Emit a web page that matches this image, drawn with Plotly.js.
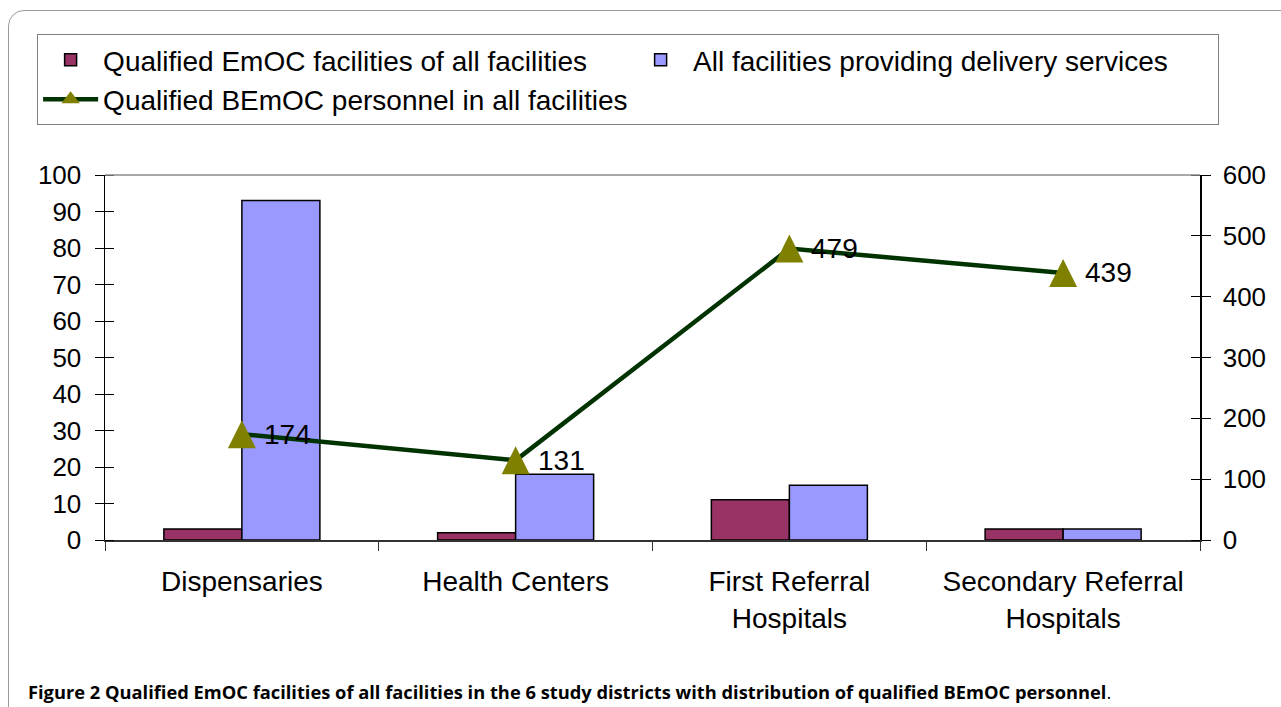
<!DOCTYPE html>
<html>
<head>
<meta charset="utf-8">
<script src="https://cdn.plot.ly/plotly-3.0.1.min.js"></script>
<style>
  html, body { margin: 0; padding: 0; background: #fff; }
  #wrap { position: relative; width: 1281px; height: 707px; overflow: hidden; }
  #frame { position: absolute; left: 8px; top: 10px; width: 1300px; height: 760px;
           border: 1px solid #9a9a9a; border-radius: 16px; box-sizing: border-box; }
  #chart { position: absolute; left: 0; top: 0; width: 1281px; height: 707px; }
</style>
</head>
<body>
<div id="wrap">
  <div id="frame"></div>
  <div id="chart"></div>
</div>
<script>
const categories = ["Dispensaries", "Health Centers", "First Referral<br>Hospitals", "Secondary Referral<br>Hospitals"];
const qualifiedEmOC = [3, 2, 11, 3];
const allFacilities = [93, 18, 15, 3];
const bemocPersonnel = [174, 131, 479, 439];
const seriesNames = ["Qualified EmOC facilities of all facilities", "All facilities providing delivery services", "Qualified BEmOC personnel in all facilities"];
const leftTicks = [0, 10, 20, 30, 40, 50, 60, 70, 80, 90, 100];
const rightTicks = [0, 100, 200, 300, 400, 500, 600];
const caption = "<b>Figure 2 Qualified EmOC facilities of all facilities in the 6 study districts with distribution of qualified BEmOC personnel</b>.";

const FONT = "Liberation Sans, Arial, sans-serif";
const LINE_COLOR = "#003300";
const MARKER_COLOR = "#808000";

const traces = [
  { type: "bar", name: seriesNames[0], x: categories, y: qualifiedEmOC,
    marker: { color: "#993366", line: { color: "#000", width: 1.5 } }, hoverinfo: "y" },
  { type: "bar", name: seriesNames[1], x: categories, y: allFacilities,
    marker: { color: "#9999FF", line: { color: "#000", width: 1.5 } }, hoverinfo: "y" },
  { type: "scatter", mode: "lines+markers", name: seriesNames[2], x: categories, y: bemocPersonnel,
    yaxis: "y2", showlegend: false,
    line: { color: LINE_COLOR, width: 4.5, backoff: 0 },
    marker: { symbol: "arrow-down", angle: 180, standoff: 14, size: 28, color: MARKER_COLOR }, cliponaxis: false },
  // legend entry for the line series (no data drawn)
  { type: "scatter", mode: "lines+markers", name: seriesNames[2], x: [null], y: [null],
    yaxis: "y2", showlegend: true,
    line: { color: LINE_COLOR, width: 4.5 },
    marker: { symbol: "triangle-up", size: 20, color: MARKER_COLOR } }
];

const labelAnnotations = categories.map((c, i) => ({
  x: c, y: bemocPersonnel[i], xref: "x", yref: "y2", text: String(bemocPersonnel[i]),
  showarrow: false, xanchor: "left", yanchor: "middle", xshift: 20,
  font: { family: FONT, size: 28, color: "#000" }
}));

const layout = {
  width: 1281, height: 707,
  margin: { l: 105, r: 81, t: 175, b: 167 },
  paper_bgcolor: "rgba(0,0,0,0)", plot_bgcolor: "rgba(0,0,0,0)",
  font: { family: FONT, size: 26, color: "#000" },
  barmode: "group", bargap: 0.43, bargroupgap: 0,
  showlegend: true,
  legend: {
    orientation: "h", x: -0.062, y: 1.386, xanchor: "left", yanchor: "top",
    bgcolor: "#fff", bordercolor: "#808080", borderwidth: 1,
    font: { family: FONT, size: 28, color: "#000" },
    entrywidth: 520, traceorder: "normal", itemwidth: 55, tracegroupgap: 0
  },
  xaxis: {
    type: "category", showline: true, linecolor: "#333", linewidth: 1.5,
    ticks: "outside", tickson: "boundaries", ticklen: 9, tickcolor: "#333",
    showgrid: false, zeroline: false, ticklabelstandoff: 16,
    tickfont: { family: FONT, size: 28, color: "#000" }
  },
  yaxis: {
    range: [0, 100], tickvals: leftTicks, showline: true, linecolor: "#000", linewidth: 1.5,
    ticks: "outside", ticklen: 9, tickcolor: "#000", showgrid: false, zeroline: false,
    minor: { tickvals: leftTicks, ticks: "inside", ticklen: 9, tickcolor: "#000", showgrid: false },
    tickfont: { family: FONT, size: 26, color: "#000" }, ticklabelstandoff: 8
  },
  yaxis2: {
    range: [0, 600], tickvals: rightTicks, overlaying: "y", side: "right",
    showline: true, linecolor: "#000", linewidth: 1.5,
    ticks: "outside", ticklen: 9, tickcolor: "#000", showgrid: false, zeroline: false,
    minor: { tickvals: rightTicks, ticks: "inside", ticklen: 9, tickcolor: "#000", showgrid: false },
    tickfont: { family: FONT, size: 26, color: "#000" }, ticklabelstandoff: 7
  },
  shapes: [
    { type: "line", xref: "paper", yref: "paper", x0: 0, x1: 1, y0: 1, y1: 1,
      line: { color: "#8c8c8c", width: 1.5 } }
  ],
  annotations: labelAnnotations.concat([
    { text: caption, xref: "paper", yref: "paper", x: -0.072, y: -0.415,
      xanchor: "left", yanchor: "middle", showarrow: false, align: "left",
      font: { family: "Open Sans, sans-serif", size: 18.3, color: "#000" } }
  ])
};

Plotly.newPlot("chart", traces, layout, { displayModeBar: false, staticPlot: true });
</script>
</body>
</html>
